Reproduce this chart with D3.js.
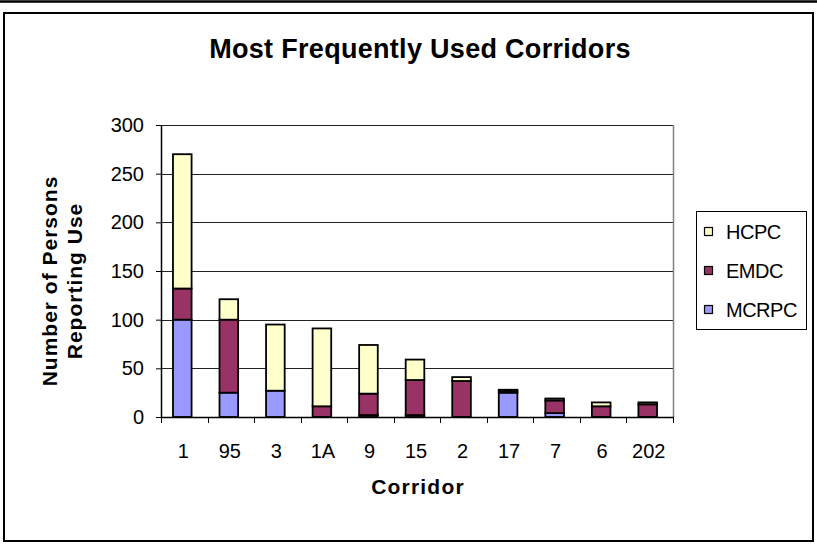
<!DOCTYPE html>
<html>
<head>
    <script src="https://d3js.org/d3.v7.min.js"></script>
    <style>
        body {
            margin: 0;
            background: #fff;
            font-family: 'Liberation Sans', Arial, sans-serif;
        }

        svg text {
            fill: #000;
        }
    </style>
</head>

<body>
    <script>
        // values
        const categories = ['1', '95', '3', '1A', '9', '15', '2', '17', '7', '6', '202'];
        const mcrpc = [100, 25, 27, 0, 2, 2, 0, 25, 4, 0, 0];
        const emdc = [32, 75, 0, 11, 22, 36, 37, 2, 13, 11, 13];
        const hcpc = [138, 21, 68, 80, 50, 21, 4, 1, 2, 4, 2];
        const seriesNames = ['MCRPC', 'EMDC', 'HCPC'];
        const seriesColors = ['#9999ff', '#993366', '#ffffcc'];
        const yTicks = [0, 50, 100, 150, 200, 250, 300];

        const width = 817,
            height = 544;

        const plot = {left: 161, right: 673, top: 125, bottom: 417};

        const svg = d3.select('body').append('svg')
            .attr('width', width)
            .attr('height', height);

        // outer frame
        svg.append('line')
            .attr('x1', 0).attr('x2', width)
            .attr('y1', 1.5).attr('y2', 1.5)
            .attr('stroke', '#000').attr('stroke-width', 2.5);

        svg.append('rect')
            .attr('x', 4).attr('y', 13)
            .attr('width', 809).attr('height', 528)
            .attr('fill', 'none')
            .attr('stroke', '#000')
            .attr('stroke-width', 2);

        const x = d3.scaleBand()
            .domain(categories)
            .range([plot.left, plot.right])
            .paddingInner(0.6)
            .paddingOuter(0.3);

        const y = d3.scaleLinear()
            .domain([0, 300])
            .range([plot.bottom, plot.top]);

        // gridlines
        svg.append('g')
            .selectAll('line')
            .data(yTicks.filter(d => d > 0))
            .join('line')
            .attr('x1', plot.left).attr('x2', plot.right)
            .attr('y1', d => Math.round(y(d)) + 0.5)
            .attr('y2', d => Math.round(y(d)) + 0.5)
            .attr('stroke', '#222')
            .attr('stroke-width', 1);

        // right border of the plot area
        svg.append('line')
            .attr('x1', plot.right + 0.5).attr('x2', plot.right + 0.5)
            .attr('y1', plot.top).attr('y2', plot.bottom)
            .attr('stroke', '#808080')
            .attr('stroke-width', 1.5);

        // stacked bars
        const rows = categories.map((c, i) => ({
            cat: c, MCRPC: mcrpc[i], EMDC: emdc[i], HCPC: hcpc[i]
        }));
        const stacked = d3.stack().keys(seriesNames)(rows);

        svg.append('g')
            .selectAll('g')
            .data(stacked)
            .join('g')
            .attr('fill', (d, i) => seriesColors[i])
            .selectAll('rect')
            .data(d => d.filter(s => s[1] - s[0] > 0))
            .join('rect')
            .attr('x', d => x(d.data.cat) - 2)
            .attr('width', x.bandwidth())
            .attr('y', d => y(d[1]))
            .attr('height', d => y(d[0]) - y(d[1]))
            .attr('stroke', '#000')
            .attr('stroke-width', 1.8);

        // y axis
        const yAxis = svg.append('g')
            .attr('transform', `translate(${plot.left},0)`)
            .call(d3.axisLeft(y).tickValues(yTicks).tickSize(5).tickPadding(12));
        yAxis.select('.domain').attr('stroke', '#000').attr('stroke-width', 1.5)
            .attr('d', `M0.5,${plot.top}V${plot.bottom}`);
        yAxis.selectAll('.tick line').attr('stroke', '#000');
        yAxis.selectAll('text')
            .style('font-family', "'Liberation Sans', Arial, sans-serif")
            .style('font-size', '20px');

        // x axis, ticks at category boundaries
        const xg = svg.append('g');
        xg.append('line')
            .attr('x1', plot.left).attr('x2', plot.right + 1)
            .attr('y1', plot.bottom + 0.5).attr('y2', plot.bottom + 0.5)
            .attr('stroke', '#000').attr('stroke-width', 1.5);
        xg.selectAll('line.tk')
            .data(d3.range(categories.length + 1))
            .join('line')
            .attr('class', 'tk')
            .attr('x1', i => Math.round(plot.left + i * (plot.right - plot.left) / categories.length) + 0.5)
            .attr('x2', i => Math.round(plot.left + i * (plot.right - plot.left) / categories.length) + 0.5)
            .attr('y1', plot.bottom).attr('y2', plot.bottom + 6)
            .attr('stroke', '#000');
        xg.selectAll('text')
            .data(categories)
            .join('text')
            .attr('x', d => x(d) + x.bandwidth() / 2 - 1)
            .attr('y', 458)
            .attr('text-anchor', 'middle')
            .style('font-size', '20px')
            .text(d => d);

        // titles
        svg.append('text')
            .attr('x', 420).attr('y', 58)
            .attr('text-anchor', 'middle')
            .style('font-size', '27px')
            .style('font-weight', 'bold')
            .style('letter-spacing', '0.3px')
            .text('Most Frequently Used Corridors');

        svg.append('text')
            .attr('x', 418).attr('y', 494)
            .attr('text-anchor', 'middle')
            .style('font-size', '21px')
            .style('font-weight', 'bold')
            .style('letter-spacing', '1.2px')
            .text('Corridor');

        const yTitle = svg.append('text')
            .attr('transform', 'translate(0,281) rotate(-90)')
            .attr('text-anchor', 'middle')
            .style('font-size', '21px')
            .style('font-weight', 'bold')
            .style('letter-spacing', '1px');
        yTitle.append('tspan').attr('x', 0).attr('y', 57).text('Number of Persons');
        yTitle.append('tspan').attr('x', 0).attr('y', 82).text('Reporting Use');

        // legend
        svg.append('rect')
            .attr('x', 696.5).attr('y', 211.5)
            .attr('width', 110).attr('height', 118)
            .attr('fill', '#fff')
            .attr('stroke', '#000');

        const legendOrder = ['HCPC', 'EMDC', 'MCRPC'];
        const lg = svg.append('g')
            .selectAll('g')
            .data(legendOrder)
            .join('g')
            .attr('transform', (d, i) => `translate(704,${232 + i * 39})`);
        lg.append('rect')
            .attr('x', 0.5).attr('y', -4.5)
            .attr('width', 8).attr('height', 8)
            .attr('fill', d => seriesColors[seriesNames.indexOf(d)])
            .attr('stroke', '#000')
            .attr('stroke-width', 1.2);
        lg.append('text')
            .attr('x', 22).attr('y', 7)
            .style('font-size', '20px')
            .style('letter-spacing', '-0.5px')
            .text(d => d);
    </script>
</body>

</html>
